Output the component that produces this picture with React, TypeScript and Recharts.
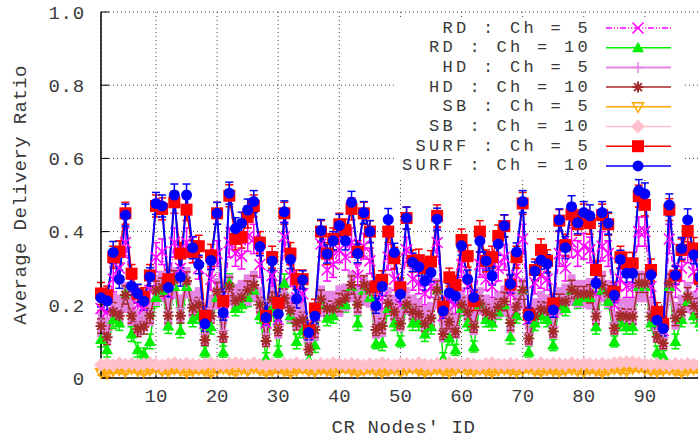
import React from "react";
import { LineChart, Line, XAxis, YAxis, CartesianGrid, ErrorBar, Legend } from "recharts";

const FONT = "'Liberation Mono', 'DejaVu Sans Mono', monospace";

// CR node ids 1..100
const nodeIds = Array.from({ length: 100 }, (_, i) => i + 1);
const xTicks = [10, 20, 30, 40, 50, 60, 70, 80, 90];
const yTicks = [0, 0.2, 0.4, 0.6, 0.8, 1.0];

const rd5 = [
  0.19, 0.18, 0.27, 0.3, 0.37, 0.24, 0.2, 0.19, 0.24, 0.33,
  0.345, 0.23, 0.37, 0.3, 0.37, 0.35, 0.3, 0.15, 0.27, 0.34,
  0.18, 0.37, 0.34, 0.333, 0.386, 0.38, 0.31, 0.15, 0.28, 0.16,
  0.386, 0.28, 0.22, 0.23, 0.12, 0.17, 0.366, 0.295, 0.31, 0.35,
  0.33, 0.37, 0.28, 0.36, 0.32, 0.2, 0.22, 0.33, 0.27, 0.2,
  0.35, 0.27, 0.26, 0.23, 0.25, 0.37, 0.17, 0.21, 0.2, 0.31,
  0.25, 0.2, 0.31, 0.27, 0.25, 0.3, 0.33, 0.23, 0.28, 0.38,
  0.16, 0.26, 0.28, 0.27, 0.18, 0.34, 0.3, 0.37, 0.34, 0.36,
  0.35, 0.23, 0.36, 0.34, 0.2, 0.27, 0.25, 0.25, 0.4, 0.4,
  0.25, 0.15, 0.13, 0.38, 0.25, 0.3, 0.35, 0.29, 0.25, 0.27,
];
const rd5Err = [
  0.03, 0.03, 0.035, 0.03, 0.04, 0.03, 0.03, 0.025, 0.03, 0.04,
  0.035, 0.03, 0.04, 0.035, 0.04, 0.035, 0.03, 0.025, 0.03, 0.035,
  0.025, 0.04, 0.035, 0.035, 0.04, 0.04, 0.035, 0.025, 0.03, 0.025,
  0.04, 0.03, 0.03, 0.03, 0.02, 0.025, 0.035, 0.03, 0.035, 0.035,
  0.035, 0.04, 0.03, 0.035, 0.035, 0.025, 0.03, 0.035, 0.03, 0.025,
  0.035, 0.03, 0.03, 0.03, 0.03, 0.04, 0.025, 0.03, 0.025, 0.035,
  0.03, 0.025, 0.035, 0.03, 0.03, 0.035, 0.035, 0.03, 0.03, 0.04,
  0.025, 0.03, 0.035, 0.03, 0.025, 0.035, 0.035, 0.04, 0.035, 0.035,
  0.035, 0.03, 0.04, 0.035, 0.025, 0.03, 0.03, 0.03, 0.04, 0.04,
  0.03, 0.025, 0.02, 0.04, 0.03, 0.035, 0.035, 0.03, 0.03, 0.03,
];

const rd10 = [
  0.105, 0.077, 0.16, 0.15, 0.23, 0.12, 0.077, 0.067, 0.1, 0.22,
  0.24, 0.142, 0.25, 0.13, 0.25, 0.16, 0.17, 0.072, 0.14, 0.22,
  0.072, 0.26, 0.19, 0.2, 0.22, 0.24, 0.17, 0.054, 0.19, 0.072,
  0.259, 0.17, 0.1, 0.13, 0.05, 0.09, 0.2, 0.163, 0.17, 0.2,
  0.2, 0.25, 0.15, 0.24, 0.22, 0.095, 0.095, 0.19, 0.15, 0.1,
  0.2, 0.15, 0.15, 0.12, 0.14, 0.24, 0.054, 0.11, 0.077, 0.19,
  0.15, 0.086, 0.2, 0.16, 0.15, 0.18, 0.2, 0.113, 0.17, 0.24,
  0.072, 0.15, 0.17, 0.16, 0.09, 0.2, 0.19, 0.24, 0.21, 0.22,
  0.22, 0.14, 0.24, 0.21, 0.1, 0.15, 0.14, 0.14, 0.25, 0.25,
  0.15, 0.072, 0.06, 0.25, 0.1, 0.16, 0.21, 0.17, 0.15, 0.17,
];
const rd10Err = [
  0.02, 0.02, 0.025, 0.02, 0.025, 0.02, 0.02, 0.015, 0.02, 0.025,
  0.025, 0.02, 0.025, 0.02, 0.025, 0.02, 0.02, 0.015, 0.02, 0.025,
  0.015, 0.025, 0.02, 0.02, 0.025, 0.025, 0.02, 0.015, 0.02, 0.015,
  0.025, 0.02, 0.02, 0.02, 0.015, 0.02, 0.025, 0.02, 0.02, 0.025,
  0.02, 0.025, 0.02, 0.025, 0.02, 0.015, 0.02, 0.02, 0.02, 0.015,
  0.02, 0.02, 0.02, 0.02, 0.02, 0.025, 0.015, 0.02, 0.015, 0.02,
  0.02, 0.015, 0.02, 0.02, 0.02, 0.02, 0.025, 0.02, 0.02, 0.025,
  0.015, 0.02, 0.02, 0.02, 0.015, 0.02, 0.02, 0.025, 0.02, 0.02,
  0.025, 0.02, 0.025, 0.02, 0.015, 0.02, 0.02, 0.02, 0.025, 0.025,
  0.02, 0.015, 0.015, 0.025, 0.02, 0.02, 0.025, 0.02, 0.02, 0.02,
];

const hd5 = [
  0.15, 0.13, 0.19, 0.19, 0.22, 0.18, 0.15, 0.16, 0.18, 0.24,
  0.25, 0.18, 0.26, 0.19, 0.26, 0.2, 0.21, 0.12, 0.19, 0.23,
  0.13, 0.24, 0.22, 0.23, 0.24, 0.25, 0.21, 0.12, 0.21, 0.14,
  0.23, 0.19, 0.17, 0.17, 0.1, 0.14, 0.21, 0.2, 0.2, 0.21,
  0.22, 0.25, 0.21, 0.24, 0.23, 0.14, 0.15, 0.21, 0.19, 0.16,
  0.21, 0.19, 0.18, 0.16, 0.17, 0.23, 0.13, 0.16, 0.14, 0.21,
  0.19, 0.15, 0.21, 0.19, 0.18, 0.2, 0.21, 0.16, 0.2, 0.23,
  0.12, 0.18, 0.2, 0.19, 0.14, 0.21, 0.22, 0.24, 0.23, 0.23,
  0.23, 0.18, 0.25, 0.23, 0.15, 0.18, 0.18, 0.18, 0.25, 0.25,
  0.18, 0.13, 0.11, 0.25, 0.17, 0.19, 0.22, 0.2, 0.18, 0.19,
];
const hd5Err = [
  0.03, 0.03, 0.035, 0.03, 0.035, 0.03, 0.03, 0.025, 0.03, 0.035,
  0.035, 0.03, 0.035, 0.03, 0.035, 0.03, 0.03, 0.025, 0.03, 0.035,
  0.025, 0.035, 0.03, 0.03, 0.035, 0.035, 0.03, 0.025, 0.03, 0.025,
  0.035, 0.03, 0.03, 0.03, 0.025, 0.03, 0.035, 0.03, 0.03, 0.035,
  0.03, 0.035, 0.03, 0.035, 0.03, 0.025, 0.03, 0.03, 0.03, 0.025,
  0.03, 0.03, 0.03, 0.03, 0.03, 0.035, 0.025, 0.03, 0.025, 0.03,
  0.03, 0.025, 0.03, 0.03, 0.03, 0.03, 0.035, 0.03, 0.03, 0.035,
  0.025, 0.03, 0.03, 0.03, 0.025, 0.03, 0.03, 0.035, 0.03, 0.03,
  0.035, 0.03, 0.035, 0.03, 0.025, 0.03, 0.03, 0.03, 0.035, 0.035,
  0.03, 0.025, 0.025, 0.035, 0.03, 0.03, 0.035, 0.03, 0.03, 0.03,
];

const hd10 = [
  0.142, 0.111, 0.181, 0.17, 0.227, 0.17, 0.133, 0.14, 0.17, 0.24,
  0.248, 0.17, 0.268, 0.17, 0.265, 0.192, 0.2, 0.104, 0.17, 0.236,
  0.113, 0.25, 0.211, 0.22, 0.24, 0.254, 0.2, 0.101, 0.215, 0.131,
  0.218, 0.184, 0.151, 0.16, 0.078, 0.131, 0.215, 0.19, 0.19, 0.206,
  0.218, 0.254, 0.2, 0.254, 0.24, 0.131, 0.142, 0.204, 0.181, 0.149,
  0.2, 0.181, 0.175, 0.148, 0.163, 0.24, 0.12, 0.154, 0.127, 0.2,
  0.181, 0.14, 0.204, 0.181, 0.172, 0.195, 0.209, 0.15, 0.195, 0.24,
  0.108, 0.17, 0.188, 0.185, 0.127, 0.209, 0.209, 0.242, 0.23, 0.23,
  0.23, 0.168, 0.254, 0.232, 0.136, 0.17, 0.168, 0.168, 0.259, 0.259,
  0.168, 0.113, 0.095, 0.259, 0.163, 0.18, 0.222, 0.197, 0.175, 0.19,
];
const hd10Err = [
  0.02, 0.02, 0.025, 0.02, 0.025, 0.02, 0.02, 0.02, 0.02, 0.025,
  0.025, 0.02, 0.025, 0.02, 0.025, 0.02, 0.02, 0.015, 0.02, 0.025,
  0.015, 0.025, 0.02, 0.02, 0.025, 0.025, 0.02, 0.015, 0.02, 0.015,
  0.025, 0.02, 0.02, 0.02, 0.015, 0.02, 0.025, 0.02, 0.02, 0.025,
  0.02, 0.025, 0.02, 0.025, 0.02, 0.015, 0.02, 0.02, 0.02, 0.015,
  0.02, 0.02, 0.02, 0.02, 0.02, 0.025, 0.015, 0.02, 0.015, 0.02,
  0.02, 0.015, 0.02, 0.02, 0.02, 0.02, 0.025, 0.02, 0.02, 0.025,
  0.015, 0.02, 0.02, 0.02, 0.015, 0.02, 0.02, 0.025, 0.02, 0.02,
  0.025, 0.02, 0.025, 0.02, 0.015, 0.02, 0.02, 0.02, 0.025, 0.025,
  0.02, 0.015, 0.015, 0.025, 0.02, 0.02, 0.025, 0.02, 0.02, 0.02,
];

const sb5 = [
  0.015, 0.012, 0.02, 0.022, 0.018, 0.025, 0.02, 0.017, 0.022, 0.026,
  0.02, 0.018, 0.024, 0.021, 0.016, 0.02, 0.023, 0.019, 0.015, 0.022,
  0.026, 0.021, 0.018, 0.024, 0.02, 0.027, 0.022, 0.017, 0.02, 0.024,
  0.019, 0.015, 0.021, 0.025, 0.02, 0.018, 0.023, 0.02, 0.016, 0.022,
  0.025, 0.02, 0.017, 0.021, 0.024, 0.019, 0.015, 0.02, 0.023, 0.018,
  0.022, 0.026, 0.02, 0.017, 0.021, 0.024, 0.019, 0.015, 0.022, 0.025,
  0.02, 0.018, 0.023, 0.019, 0.016, 0.021, 0.024, 0.02, 0.017, 0.022,
  0.025, 0.02, 0.018, 0.022, 0.02, 0.017, 0.021, 0.024, 0.02, 0.018,
  0.023, 0.02, 0.016, 0.021, 0.025, 0.022, 0.019, 0.026, 0.028, 0.024,
  0.02, 0.017, 0.021, 0.023, 0.019, 0.016, 0.021, 0.024, 0.02, 0.018,
];
const sb5Err = [
  0.007, 0.008, 0.007, 0.009, 0.007, 0.008, 0.007, 0.008, 0.009, 0.007,
  0.008, 0.007, 0.009, 0.007, 0.008, 0.007, 0.008, 0.007, 0.009, 0.008,
  0.007, 0.008, 0.009, 0.007, 0.008, 0.007, 0.008, 0.009, 0.007, 0.008,
  0.007, 0.008, 0.007, 0.009, 0.008, 0.007, 0.008, 0.007, 0.009, 0.007,
  0.008, 0.007, 0.008, 0.009, 0.007, 0.008, 0.007, 0.008, 0.007, 0.009,
  0.007, 0.008, 0.007, 0.008, 0.009, 0.007, 0.008, 0.007, 0.008, 0.007,
  0.009, 0.007, 0.008, 0.007, 0.008, 0.007, 0.009, 0.008, 0.007, 0.008,
  0.007, 0.008, 0.009, 0.007, 0.008, 0.007, 0.008, 0.007, 0.009, 0.007,
  0.008, 0.007, 0.008, 0.009, 0.007, 0.008, 0.007, 0.008, 0.009, 0.007,
  0.008, 0.007, 0.008, 0.007, 0.009, 0.008, 0.007, 0.008, 0.007, 0.008,
];

const sb10 = [
  0.036, 0.038, 0.035, 0.04, 0.037, 0.039, 0.036, 0.038, 0.041, 0.037,
  0.035, 0.038, 0.04, 0.036, 0.039, 0.037, 0.035, 0.038, 0.04, 0.037,
  0.036, 0.039, 0.041, 0.038, 0.036, 0.04, 0.037, 0.035, 0.038, 0.036,
  0.039, 0.037, 0.04, 0.036, 0.038, 0.035, 0.039, 0.037, 0.04, 0.038,
  0.036, 0.039, 0.037, 0.035, 0.038, 0.036, 0.04, 0.037, 0.035, 0.039,
  0.038, 0.036, 0.04, 0.037, 0.035, 0.039, 0.037, 0.04, 0.038, 0.036,
  0.039, 0.037, 0.035, 0.038, 0.04, 0.037, 0.036, 0.039, 0.037, 0.035,
  0.038, 0.036, 0.04, 0.037, 0.039, 0.038, 0.036, 0.04, 0.037, 0.039,
  0.038, 0.036, 0.039, 0.037, 0.04, 0.042, 0.044, 0.043, 0.04, 0.038,
  0.036, 0.039, 0.037, 0.035, 0.038, 0.036, 0.039, 0.037, 0.038, 0.036,
];
const sb10Err = [
  0.003, 0.004, 0.003, 0.004, 0.003, 0.004, 0.003, 0.004, 0.003, 0.004,
  0.004, 0.003, 0.004, 0.003, 0.004, 0.003, 0.004, 0.003, 0.004, 0.003,
  0.003, 0.004, 0.003, 0.004, 0.003, 0.004, 0.003, 0.004, 0.003, 0.004,
  0.004, 0.003, 0.004, 0.003, 0.004, 0.003, 0.004, 0.003, 0.004, 0.003,
  0.003, 0.004, 0.003, 0.004, 0.003, 0.004, 0.003, 0.004, 0.003, 0.004,
  0.004, 0.003, 0.004, 0.003, 0.004, 0.003, 0.004, 0.003, 0.004, 0.003,
  0.003, 0.004, 0.003, 0.004, 0.003, 0.004, 0.003, 0.004, 0.003, 0.004,
  0.004, 0.003, 0.004, 0.003, 0.004, 0.003, 0.004, 0.003, 0.004, 0.003,
  0.003, 0.004, 0.003, 0.004, 0.003, 0.004, 0.003, 0.004, 0.003, 0.004,
  0.004, 0.003, 0.004, 0.003, 0.004, 0.003, 0.004, 0.003, 0.004, 0.003,
];

const surf5 = [
  0.231, 0.226, 0.33, 0.345, 0.45, 0.285, 0.23, 0.222, 0.28, 0.47,
  0.462, 0.27, 0.48, 0.34, 0.46, 0.345, 0.36, 0.17, 0.335, 0.45,
  0.21, 0.498, 0.38, 0.385, 0.44, 0.47, 0.37, 0.17, 0.33, 0.205,
  0.45, 0.34, 0.27, 0.27, 0.13, 0.19, 0.4, 0.34, 0.38, 0.42,
  0.404, 0.462, 0.345, 0.45, 0.4, 0.25, 0.268, 0.4, 0.327, 0.248,
  0.437, 0.32, 0.322, 0.3, 0.318, 0.443, 0.195, 0.275, 0.254, 0.377,
  0.333, 0.21, 0.4, 0.32, 0.33, 0.388, 0.415, 0.255, 0.33, 0.477,
  0.173, 0.295, 0.35, 0.32, 0.204, 0.43, 0.363, 0.447, 0.42, 0.445,
  0.423, 0.295, 0.445, 0.42, 0.236, 0.33, 0.313, 0.313, 0.497, 0.473,
  0.295, 0.181, 0.148, 0.46, 0.28, 0.35, 0.402, 0.354, 0.27, 0.3,
];
const surf5Err = [
  0.03, 0.025, 0.03, 0.03, 0.03, 0.025, 0.025, 0.025, 0.03, 0.03,
  0.03, 0.025, 0.03, 0.03, 0.03, 0.03, 0.03, 0.02, 0.03, 0.03,
  0.025, 0.03, 0.03, 0.03, 0.03, 0.03, 0.03, 0.02, 0.03, 0.025,
  0.03, 0.03, 0.025, 0.025, 0.02, 0.025, 0.03, 0.03, 0.03, 0.03,
  0.03, 0.03, 0.03, 0.03, 0.03, 0.025, 0.025, 0.03, 0.03, 0.025,
  0.03, 0.03, 0.03, 0.025, 0.03, 0.03, 0.025, 0.025, 0.025, 0.03,
  0.03, 0.025, 0.03, 0.03, 0.03, 0.03, 0.03, 0.025, 0.03, 0.03,
  0.02, 0.03, 0.03, 0.03, 0.025, 0.03, 0.03, 0.03, 0.03, 0.03,
  0.03, 0.025, 0.03, 0.03, 0.025, 0.03, 0.03, 0.03, 0.03, 0.03,
  0.03, 0.025, 0.02, 0.03, 0.025, 0.03, 0.03, 0.03, 0.025, 0.03,
];

const surf10 = [
  0.219, 0.211, 0.343, 0.27, 0.445, 0.251, 0.231, 0.21, 0.276, 0.477,
  0.47, 0.247, 0.5, 0.276, 0.5, 0.356, 0.31, 0.148, 0.321, 0.45,
  0.178, 0.505, 0.408, 0.423, 0.459, 0.482, 0.359, 0.165, 0.32, 0.175,
  0.454, 0.324, 0.216, 0.268, 0.124, 0.169, 0.403, 0.339, 0.375, 0.417,
  0.375, 0.48, 0.34, 0.452, 0.4, 0.197, 0.25, 0.433, 0.343, 0.229,
  0.437, 0.316, 0.304, 0.265, 0.288, 0.434, 0.183, 0.233, 0.224, 0.361,
  0.27, 0.22, 0.374, 0.32, 0.279, 0.366, 0.416, 0.257, 0.344, 0.482,
  0.17, 0.292, 0.322, 0.312, 0.186, 0.432, 0.356, 0.468, 0.424, 0.452,
  0.443, 0.259, 0.452, 0.423, 0.226, 0.324, 0.286, 0.286, 0.512, 0.503,
  0.282, 0.158, 0.135, 0.473, 0.281, 0.354, 0.432, 0.337, 0.276, 0.3,
];
const surf10Err = [
  0.025, 0.025, 0.03, 0.025, 0.03, 0.025, 0.025, 0.025, 0.025, 0.03,
  0.03, 0.025, 0.03, 0.025, 0.03, 0.03, 0.025, 0.02, 0.025, 0.03,
  0.02, 0.03, 0.03, 0.03, 0.03, 0.03, 0.025, 0.02, 0.025, 0.02,
  0.03, 0.025, 0.025, 0.025, 0.02, 0.02, 0.03, 0.025, 0.025, 0.03,
  0.025, 0.03, 0.025, 0.03, 0.03, 0.02, 0.025, 0.03, 0.025, 0.02,
  0.03, 0.025, 0.025, 0.025, 0.025, 0.03, 0.02, 0.025, 0.02, 0.025,
  0.025, 0.02, 0.03, 0.025, 0.025, 0.03, 0.03, 0.025, 0.025, 0.03,
  0.02, 0.025, 0.025, 0.025, 0.02, 0.03, 0.03, 0.03, 0.03, 0.03,
  0.03, 0.025, 0.03, 0.03, 0.02, 0.025, 0.025, 0.025, 0.03, 0.03,
  0.025, 0.02, 0.02, 0.03, 0.025, 0.03, 0.03, 0.025, 0.025, 0.025,
];

type MarkerKind = "x" | "tri" | "plus" | "star" | "dtri" | "diamond" | "square" | "circle";

const series = [
  { key: "rd5", label: "RD : Ch = 5", color: "#ff00ff", marker: "x" as MarkerKind, values: rd5, err: rd5Err, width: 1.5, dash: "6 2 1 2 1 2", errWidth: 1.5 },
  { key: "rd10", label: "RD : Ch = 10", color: "#00ee00", marker: "tri" as MarkerKind, values: rd10, err: rd10Err, width: 1.5, dash: undefined, errWidth: 1.5 },
  { key: "hd5", label: "HD : Ch = 5", color: "#e484e4", marker: "plus" as MarkerKind, values: hd5, err: hd5Err, width: 3.5, dash: undefined, errWidth: 6 },
  { key: "hd10", label: "HD : Ch = 10", color: "#a52a2a", marker: "star" as MarkerKind, values: hd10, err: hd10Err, width: 1.5, dash: undefined, errWidth: 1.5 },
  { key: "sb5", label: "SB : Ch = 5", color: "#ffa500", marker: "dtri" as MarkerKind, values: sb5, err: sb5Err, width: 2, dash: undefined, errWidth: 1.5 },
  { key: "sb10", label: "SB : Ch = 10", color: "#ffc0cb", marker: "diamond" as MarkerKind, values: sb10, err: sb10Err, width: 3, dash: undefined, errWidth: 1.5 },
  { key: "surf5", label: "SURF : Ch = 5", color: "#ff0000", marker: "square" as MarkerKind, values: surf5, err: surf5Err, width: 1.5, dash: undefined, errWidth: 1.5 },
  { key: "surf10", label: "SURF : Ch = 10", color: "#0000ff", marker: "circle" as MarkerKind, values: surf10, err: surf10Err, width: 2, dash: undefined, errWidth: 1.5 },
];

const rows = nodeIds.map((id, i) => {
  const row: Record<string, number> = { x: id };
  series.forEach((s) => {
    row[s.key] = s.values[i];
    row[s.key + "Err"] = s.err[i];
  });
  return row;
});

function Marker({ kind, cx, cy, color }: { kind: MarkerKind; cx: number; cy: number; color: string }) {
  const h = 5.5;
  switch (kind) {
    case "x":
      return <path d={`M${cx - h},${cy - h}L${cx + h},${cy + h}M${cx - h},${cy + h}L${cx + h},${cy - h}`} stroke={color} strokeWidth={1.5} fill="none" />;
    case "tri":
      return <path d={`M${cx},${cy - 6}L${cx + 6},${cy + 4.5}L${cx - 6},${cy + 4.5}Z`} fill={color} />;
    case "plus":
      return <path d={`M${cx - h},${cy}L${cx + h},${cy}M${cx},${cy - h}L${cx},${cy + h}`} stroke={color} strokeWidth={1.5} fill="none" />;
    case "star":
      return (
        <path
          d={`M${cx - h},${cy}L${cx + h},${cy}M${cx},${cy - h}L${cx},${cy + h}M${cx - 4},${cy - 4}L${cx + 4},${cy + 4}M${cx - 4},${cy + 4}L${cx + 4},${cy - 4}`}
          stroke={color}
          strokeWidth={2}
          fill="none"
        />
      );
    case "dtri":
      return <path d={`M${cx - 5.5},${cy - 4}L${cx + 5.5},${cy - 4}L${cx},${cy + 5.5}Z`} stroke={color} strokeWidth={1.5} fill="none" />;
    case "diamond":
      return <path d={`M${cx},${cy - 7}L${cx + 7},${cy}L${cx},${cy + 7}L${cx - 7},${cy}Z`} fill={color} />;
    case "square":
      return <rect x={cx - 6} y={cy - 6} width={12} height={12} fill={color} />;
    default:
      return <circle cx={cx} cy={cy} r={5.5} fill={color} />;
  }
}

const textStyle = { fontFamily: FONT, fontSize: 19, fill: "#3a3a3a" };

function renderLegend() {
  return (
    <svg width={288} height={159} style={{ display: "block" }}>
      {series.map((s, i) => {
        const y = 10 + i * 19.7;
        return (
          <g key={s.key}>
            <text x={194} y={y} textAnchor="end" dominantBaseline="central" style={{ ...textStyle, fontSize: 17, letterSpacing: 3.3 }}>
              {s.label}
            </text>
            <line x1={209} x2={274} y1={y} y2={y} stroke={s.color} strokeWidth={s.key === "hd5" ? 2 : 1.5} strokeDasharray={s.dash} />
            <Marker kind={s.marker} cx={241} cy={y} color={s.color} />
          </g>
        );
      })}
    </svg>
  );
}

const formatY = (v: number) => (v === 0 ? "0" : v.toFixed(1));

export default function App() {
  return (
    <div style={{ position: "fixed", left: 0, top: 0, width: 698, height: 441, overflow: "hidden", background: "#fff" }}>
      <LineChart width={720} height={441} data={rows} margin={{ top: 12, right: 14, bottom: 0, left: 0 }} style={{ fontFamily: FONT }}>
        <CartesianGrid stroke="#444" strokeDasharray="1 3" />
        <XAxis
          dataKey="x"
          type="number"
          domain={[1, 100]}
          ticks={xTicks}
          height={63}
          tickSize={-8}
          tickMargin={19}
          axisLine={{ stroke: "#000", strokeWidth: 1.5 }}
          tickLine={{ stroke: "#000" }}
          tick={textStyle}
          label={{ value: "CR Nodes' ID", position: "insideBottom", offset: 8, style: { ...textStyle, letterSpacing: 0.6 } }}
        />
        <XAxis
          xAxisId="top"
          orientation="top"
          dataKey="x"
          type="number"
          domain={[1, 100]}
          ticks={xTicks}
          height={0}
          tickSize={-8}
          tick={false}
          axisLine={{ stroke: "#000", strokeWidth: 1.5 }}
          tickLine={{ stroke: "#000" }}
        />
        <YAxis
          type="number"
          domain={[0, 1]}
          ticks={yTicks}
          tickFormatter={formatY}
          width={101}
          tickSize={-8}
          tickMargin={24}
          axisLine={{ stroke: "#000", strokeWidth: 1.5 }}
          tickLine={{ stroke: "#000" }}
          tick={{ ...textStyle, letterSpacing: 0.8 }}
          label={{
            content: () => (
              <text x={21} y={195} transform="rotate(-90 21 195)" textAnchor="middle" dominantBaseline="central" style={{ ...textStyle, letterSpacing: 0.4 }}>
                Average Delivery Ratio
              </text>
            ),
          }}
        />
        <Legend
          layout="horizontal"
          verticalAlign="middle"
          align="center"
          content={renderLegend}
          wrapperStyle={{ left: 397, top: 18, width: 288, height: 159, background: "#fff" }}
        />
        {series.map((s) => (
          <Line
            key={s.key}
            dataKey={s.key}
            name={s.label}
            stroke={s.color}
            strokeWidth={s.width}
            strokeDasharray={s.dash}
            isAnimationActive={false}
            activeDot={false}
            dot={(p: any) => <Marker key={`${s.key}-${p.index}`} kind={s.marker} cx={p.cx} cy={p.cy} color={s.color} />}
          >
            <ErrorBar dataKey={s.key + "Err"} direction="y" width={4} stroke={s.color} strokeWidth={s.errWidth} />
          </Line>
        ))}
      </LineChart>
    </div>
  );
}
